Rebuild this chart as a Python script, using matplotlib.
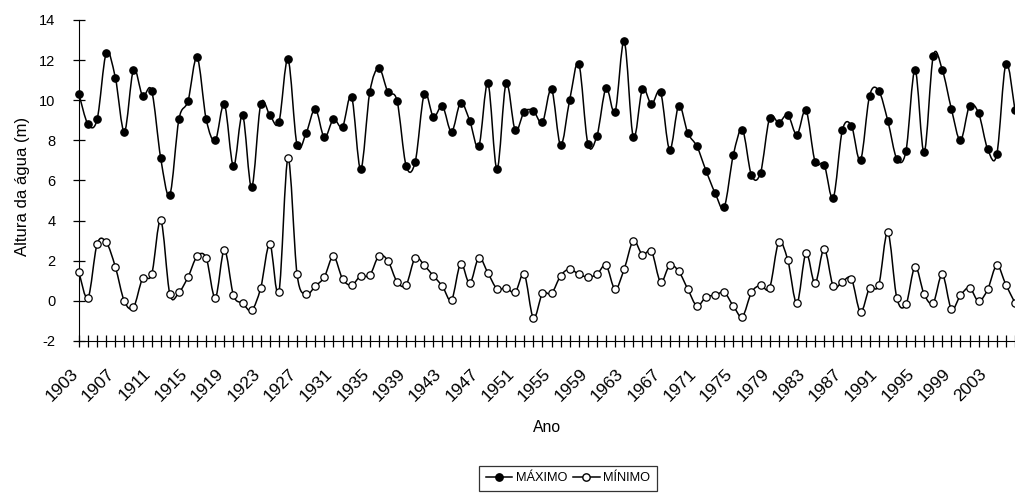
import numpy as np
import matplotlib
matplotlib.use("Agg")
import matplotlib.pyplot as plt
import matplotlib.transforms as mtransforms
from matplotlib.path import Path
from matplotlib.patches import PathPatch
from matplotlib.lines import Line2D

plt.rcParams['font.family'] = ['Liberation Sans', 'DejaVu Sans']
plt.rcParams['axes.unicode_minus'] = False

anos = list(range(1903, 2007))

maximo = [10.3, 8.8, 9.05, 12.35, 11.13, 8.43, 11.52, 10.23, 10.47, 7.1,
          5.29, 9.05, 9.97, 12.14, 9.05, 8.0, 9.8, 6.71, 9.27, 5.66,
          9.8, 9.27, 8.9, 12.05, 7.76, 8.36, 9.57, 8.15, 9.05, 8.68,
          10.18, 6.56, 10.4, 11.6, 10.4, 9.97, 6.73, 6.93, 10.32, 9.18,
          9.7, 8.43, 9.88, 8.98, 7.7, 10.85, 6.56, 10.85, 8.51, 9.43,
          9.47, 8.9, 10.55, 7.76, 10.02, 11.82, 7.83, 8.23, 10.6, 9.43,
          12.94, 8.15, 10.55, 9.8, 10.4, 7.53, 9.73, 8.36, 7.7, 6.49,
          5.38, 4.67, 7.26, 8.53, 6.26, 6.39, 9.12, 8.88, 9.27, 8.28,
          9.5, 6.94, 6.79, 5.13, 8.5, 8.73, 7.01, 10.23, 10.48, 8.98,
          7.08, 7.46, 11.52, 7.4, 12.19, 11.52, 9.57, 8.0, 9.72, 9.35,
          7.55, 7.31, 11.82, 9.5]

minimo = [1.42, 0.15, 2.84, 2.92, 1.7, -0.03, -0.32, 1.12, 1.32, 4.02,
          0.33, 0.42, 1.19, 2.22, 2.14, 0.15, 2.54, 0.28, -0.12, -0.47,
          0.65, 2.84, 0.42, 7.1, 1.32, 0.33, 0.73, 1.19, 2.22, 1.1,
          0.78, 1.25, 1.27, 2.24, 2.0, 0.95, 0.8, 2.15, 1.77, 1.24,
          0.73, 0.05, 1.85, 0.87, 2.15, 1.39, 0.6, 0.65, 0.42, 1.32,
          -0.85, 0.37, 0.37, 1.25, 1.59, 1.32, 1.19, 1.32, 1.77, 0.58,
          1.59, 2.99, 2.3, 2.47, 0.95, 1.77, 1.47, 0.58, -0.25, 0.2,
          0.28, 0.42, -0.25, -0.78, 0.42, 0.78, 0.65, 2.92, 2.02, -0.12,
          2.37, 0.87, 2.6, 0.73, 0.95, 1.1, -0.55, 0.65, 0.78, 3.42,
          0.13, -0.18, 1.7, 0.33, -0.1, 1.32, -0.4, 0.28, 0.65, -0.02,
          0.58, 1.77, 0.8, -0.1]


def curva_suave(x, y):
    # bezier segments through every point (same smoothing as spreadsheet charts)
    pts = np.column_stack([x, y]).astype(float)
    n = len(pts)
    verts = [pts[0]]
    codes = [Path.MOVETO]
    for i in range(n - 1):
        p0 = pts[i - 1] if i > 0 else pts[i]
        p1 = pts[i]
        p2 = pts[i + 1]
        p3 = pts[i + 2] if i + 2 < n else pts[i + 1]
        verts += [p1 + (p2 - p0) / 6, p2 - (p3 - p1) / 6, p2]
        codes += [Path.CURVE4] * 3
    return Path(verts, codes)


fig = plt.figure(figsize=(10.15, 4.96), dpi=100)
ax = fig.add_axes([0.0778, 0.3125, 1 - 0.0778, 0.6472])

for serie, cor in [(maximo, 'black'), (minimo, 'white')]:
    ax.add_patch(PathPatch(curva_suave(anos, serie), fill=False,
                           edgecolor='black', lw=1.1, clip_on=False, zorder=2))
    ax.plot(anos, serie, 'o', ms=5.3, mfc=cor, mec='black', mew=0.9,
            clip_on=False, zorder=3)

ax.set_xlim(1903, 2005.75)
ax.set_ylim(-2, 14)
ax.set_yticks(range(-2, 15, 2))
ax.set_xticks(anos, minor=True)
ax.set_xticks(anos[::4])
ax.set_xticklabels([str(a) for a in anos[::4]], rotation=45, ha='right',
                   va='baseline', rotation_mode='anchor', fontsize=12.5)

# nudge the slanted year labels a little to the left
desloc = mtransforms.ScaledTranslation(-3 / 100, 0, fig.dpi_scale_trans)
for lbl in ax.get_xticklabels():
    lbl.set_transform(lbl.get_transform() + desloc)

ax.spines['top'].set_visible(False)
ax.spines['right'].set_visible(False)
ax.tick_params(axis='both', which='both', direction='inout', length=8,
               width=0.9, colors='black')
ax.tick_params(axis='y', pad=13, labelsize=10.5)
ax.tick_params(axis='x', which='major', pad=20)

ax.set_ylabel('Altura da água (m)', fontsize=12)
ax.yaxis.set_label_coords(-0.052, 0.48)
ax.set_xlabel('Ano', fontsize=11.3)
ax.xaxis.set_label_coords(0.5, -0.246)

handles = [Line2D([], [], color='black', lw=1.1, marker='o', ms=5.3,
                  mfc='black', mec='black'),
           Line2D([], [], color='black', lw=1.1, marker='o', ms=5.3,
                  mfc='white', mec='black')]
leg = fig.legend(handles, ['MÁXIMO', 'MÍNIMO'], loc='center',
                 bbox_to_anchor=(0.5596, 0.0353), ncol=2, fontsize=9.2,
                 frameon=True, fancybox=False, handlelength=2.1,
                 handletextpad=0.3, columnspacing=0.4, borderpad=0.5)
leg.get_frame().set_edgecolor('black')
leg.get_frame().set_linewidth(0.9)

fig.savefig('out.png', dpi=100)
